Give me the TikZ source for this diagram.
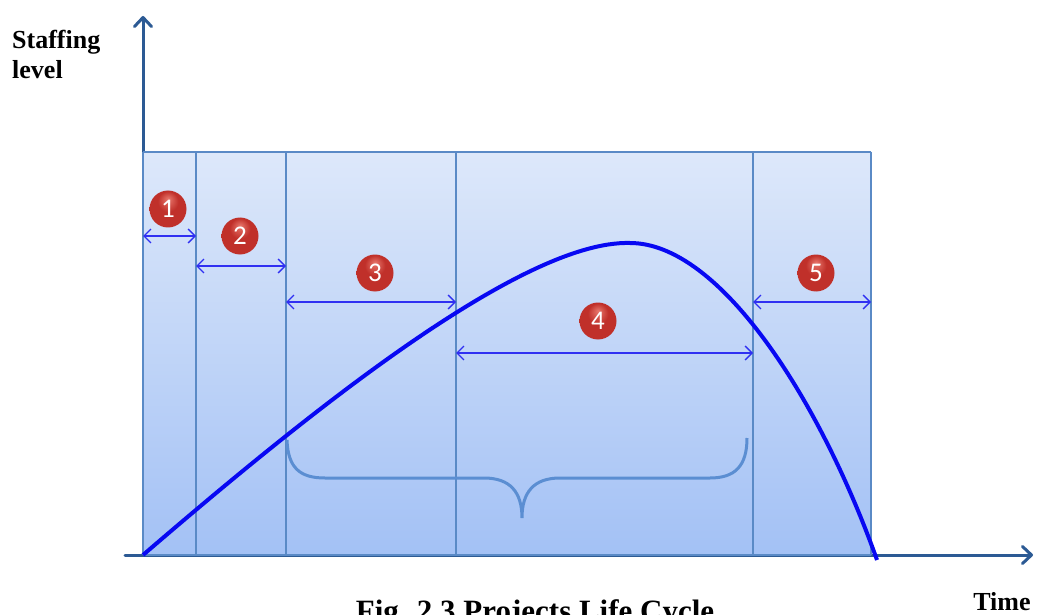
\documentclass[tikz,border=0pt]{standalone}
\usepackage{fontspec}
\setmainfont{Liberation Serif}
\newfontfamily\numfont{Carlito}
\usetikzlibrary{arrows.meta}
\definecolor{axisblue}{HTML}{2C5A94}
\definecolor{panelline}{HTML}{5A8AC6}
\definecolor{curveblue}{HTML}{0808F2}
\definecolor{arrblue}{HTML}{3030F2}
\definecolor{ballhi}{HTML}{E8776C}
\definecolor{ballred}{HTML}{C0302A}
\definecolor{balldark}{HTML}{8E1A16}
\definecolor{toppanel}{HTML}{DDE8FA}
\definecolor{botpanel}{HTML}{A3C1F5}
\definecolor{bracecol}{HTML}{5B8ED2}
\pgfdeclareradialshading{redball}{\pgfpoint{0bp}{14bp}}{%
  color(0bp)=(ballhi); color(14bp)=(ballred); color(40bp)=(ballred); color(50bp)=(balldark)}
\tikzset{
  axisline/.style={draw=axisblue,line width=3pt,line cap=round,-{Straight Barb[length=9pt,width=17pt,round]}},
  panelborder/.style={draw=panelline,line width=2pt},
  span/.style={draw=arrblue,line width=1.3pt,{Straight Barb[length=7pt,width=14pt]}-{Straight Barb[length=7pt,width=14pt]}},
  ball/.style={circle,minimum size=37pt,inner sep=0pt,shading=redball,text=white,font=\numfont\fontsize{27}{27}\selectfont},
  lifecurve/.style={draw=curveblue,line width=4pt},
  bracestyle/.style={draw=bracecol,line width=3pt},
  label/.style={font=\bfseries\fontsize{26}{30}\selectfont,inner sep=0pt}
}
\begin{document}
\begin{tikzpicture}[x=1pt,y=-1pt]
\clip (0,0) rectangle (1037,615);
\fill[white] (0,0) rectangle (1037,615);
% coordinates
\coordinate (O) at (143,555);
\coordinate (ytop) at (143,16);
\coordinate (xl) at (125,555);
\coordinate (xr) at (1033,555);
% axes
\draw[axisline] (O) -- (ytop);
\draw[axisline] (xl) -- (xr);
% panel
\shade[top color=toppanel,bottom color=botpanel] (143,152) rectangle (871,555);
\foreach \xx/\nm in {143/a,196/b,286/c,456/d,753/e,871/f}{
  \coordinate (t\nm) at (\xx,152);
  \coordinate (b\nm) at (\xx,555);
  \draw[panelborder] (t\nm) -- (b\nm);
}
\draw[panelborder] (ta) -- (tf);
\draw[panelborder] (ba) -- (bf);
% brace
\coordinate (brL) at (287,440);
\coordinate (brTip) at (522,518);
\coordinate (brR) at (747,438);
\draw[bracestyle] (brL) .. controls (288,468) and (300,478) .. (325,478) -- (484,478)
  .. controls (510,478) and (522,492) .. (brTip)
  .. controls (522,492) and (534,478) .. (560,478) -- (710,478)
  .. controls (735,478) and (747,466) .. (brR);
% life curve
\coordinate (peak) at (630,243);
\coordinate (cend) at (877,560);
\draw[lifecurve] (O) .. controls (300,420) and (520,240) .. (peak)
  .. controls (720,243) and (820,400) .. (cend);
% spans
\coordinate (s1a) at (143,236); \coordinate (s1b) at (196,236);
\coordinate (s2a) at (196,266); \coordinate (s2b) at (286,266);
\coordinate (s3a) at (286,302); \coordinate (s3b) at (456,302);
\coordinate (s4a) at (456,353); \coordinate (s4b) at (753,353);
\coordinate (s5a) at (753,302); \coordinate (s5b) at (871,302);
\draw[span] (s1a) -- (s1b);
\draw[span] (s2a) -- (s2b);
\draw[span] (s3a) -- (s3b);
\draw[span] (s4a) -- (s4b);
\draw[span] (s5a) -- (s5b);
% balls
\node[ball] (n1) at (168,209) {1};
\node[ball] (n2) at (240,236) {2};
\node[ball] (n3) at (375,273) {3};
\node[ball] (n4) at (598,321) {4};
\node[ball] (n5) at (816,273) {5};
% labels
\node[label,anchor=base west,align=left] (ylab) at (12,79) {Staffing\\level};
\node[label,anchor=base] (xlab) at (1002,610) {Time};
\node[font=\bfseries\fontsize{31}{31}\selectfont,inner sep=0pt,anchor=base] (cap) at (535,621) {Fig. 2.3 Projects Life Cycle};
\end{tikzpicture}
\end{document}
